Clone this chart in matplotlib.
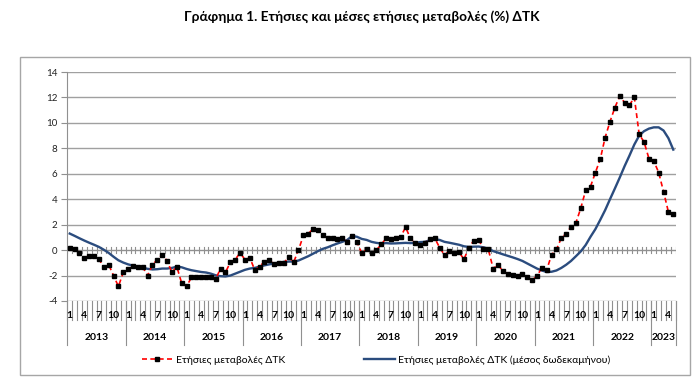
import matplotlib
matplotlib.use("Agg")
import matplotlib.pyplot as plt
import matplotlib.transforms as mtransforms
from matplotlib.patches import Rectangle

plt.rcParams['font.family'] = ['Lato', 'Open Sans', 'DejaVu Sans']

# ---------------- data ----------------
years = ['2013', '2014', '2015', '2016', '2017', '2018', '2019', '2020', '2021', '2022', '2023']
months_per_year = [12, 12, 12, 12, 12, 12, 12, 12, 12, 12, 5]
month_labels_shown = ['1', '4', '7', '10']

annual_change = [
    0.2, 0.05, -0.2, -0.6, -0.45, -0.45, -0.7, -1.35, -1.15, -2.0, -2.85, -1.75,
    -1.5, -1.25, -1.35, -1.35, -2.0, -1.15, -0.75, -0.35, -0.85, -1.75, -1.3, -2.6,
    -2.85, -2.15, -2.1, -2.1, -2.1, -2.15, -2.25, -1.45, -1.75, -0.95, -0.75, -0.2,
    -0.75, -0.6, -1.55, -1.3, -0.9, -0.75, -1.1, -1.0, -1.0, -0.55, -0.95, 0.0,
    1.15, 1.3, 1.65, 1.55, 1.15, 0.98, 0.95, 0.88, 0.95, 0.65, 1.1, 0.65,
    -0.25, 0.05, -0.25, 0.0, 0.45, 0.92, 0.88, 0.98, 1.05, 1.8, 0.92, 0.55,
    0.38, 0.58, 0.87, 0.93, 0.2, -0.38, -0.07, -0.2, -0.18, -0.72, 0.2, 0.74,
    0.82, 0.1, 0.05, -1.45, -1.15, -1.65, -1.85, -1.95, -2.0, -1.85, -2.1, -2.35,
    -2.05, -1.37, -1.55, -0.37, 0.05, 0.95, 1.3, 1.83, 2.15, 3.3, 4.7, 5.0,
    6.1, 7.15, 8.85, 10.1, 11.2, 12.1, 11.6, 11.4, 12.0, 9.1, 8.5, 7.2,
    7.0, 6.1, 4.6, 3.0, 2.8,
]

avg_change = [
    1.3, 1.12, 0.93, 0.75, 0.58, 0.42, 0.25, 0.03, -0.22, -0.52, -0.8, -0.98,
    -1.12, -1.22, -1.3, -1.38, -1.47, -1.52, -1.5, -1.45, -1.45, -1.4, -1.3, -1.35,
    -1.48, -1.58, -1.65, -1.72, -1.76, -1.85, -1.98, -2.05, -2.07, -2.0, -1.85, -1.7,
    -1.55, -1.45, -1.4, -1.3, -1.2, -1.12, -1.05, -0.98, -0.93, -0.9, -0.9, -0.82,
    -0.65, -0.48, -0.28, -0.08, 0.1, 0.22, 0.38, 0.52, 0.65, 0.8, 1.1, 1.05,
    0.88, 0.8, 0.65, 0.57, 0.52, 0.55, 0.52, 0.53, 0.55, 0.57, 0.55, 0.57,
    0.63, 0.65, 0.78, 0.85, 0.8, 0.65, 0.58, 0.5, 0.42, 0.3, 0.25, 0.27,
    0.28, 0.22, 0.12, -0.08, -0.2, -0.33, -0.45, -0.57, -0.7, -0.85, -1.05, -1.25,
    -1.45, -1.6, -1.72, -1.7, -1.6, -1.4, -1.15, -0.85, -0.48, -0.1, 0.4, 1.05,
    1.65, 2.38, 3.14, 4.0, 4.84, 5.7, 6.6, 7.43, 8.3, 9.0, 9.35, 9.55,
    9.65, 9.65, 9.4, 8.8, 7.9,
]

y_ticks = [-4, -2, 0, 2, 4, 6, 8, 10, 12, 14]
title = 'Γράφημα 1. Ετήσιες και μέσες ετήσιες μεταβολές (%) ΔΤΚ'
label_annual = 'Ετήσιες μεταβολές ΔΤΚ'
label_avg = 'Ετήσιες μεταβολές ΔΤΚ (μέσος δωδεκαμήνου)'

# ---------------- figure ----------------
W, H = 700, 380
fig = plt.figure(figsize=(W / 100, H / 100), dpi=100)
fig.patch.set_facecolor('white')

# outer chart frame
fig.patches.append(Rectangle((20 / W, 1 - 375 / H), (690 - 20) / W, (375 - 57) / H,
                             transform=fig.transFigure, fill=False,
                             edgecolor='#A6A6A6', linewidth=1.0))

fig.text(362 / W, 1 - 17 / H, title, ha='center', va='center',
         fontsize=9.8, fontweight='bold', color='black')

left, right, top, bottom = 67.3, 675.7, 72, 301
ax = fig.add_axes([left / W, 1 - bottom / H, (right - left) / W, (bottom - top) / H])

n = len(annual_change)
x = list(range(n))
ax.set_xlim(-0.5, n - 0.5)
ax.set_ylim(y_ticks[0], y_ticks[-1])

grid_col = '#A0A0A0'
for yt in y_ticks:
    if yt != 0:
        ax.axhline(yt, color=grid_col, linewidth=1.0, zorder=1)
ax.axhline(0, color='#909090', linewidth=1.0, zorder=1)
# cross ticks on the zero line
for k in range(n + 1):
    ax.plot([k - 0.5, k - 0.5], [-0.25, 0.25], color='#909090', linewidth=0.8, zorder=1)

blue_line, = ax.plot(x, avg_change, color='#2B4C7E', linewidth=1.7, zorder=3,
                     solid_joinstyle='round', label=label_avg)
red_line, = ax.plot(x, annual_change, color='#FF0000', linewidth=1.2,
                    linestyle=(0, (3, 2)), marker='s', markersize=2.3,
                    markerfacecolor='black', markeredgecolor='black',
                    zorder=4, label=label_annual)

for s in ['top', 'right', 'bottom']:
    ax.spines[s].set_visible(False)
ax.spines['left'].set_color('#909090')
ax.set_yticks(y_ticks)
ax.set_yticklabels([str(v) for v in y_ticks])
ax.tick_params(axis='y', length=4, color='#909090', labelsize=7, pad=3, labelcolor='#222222')
ax.set_xticks([])

# multi-level category axis below the plot
trans = mtransforms.blended_transform_factory(ax.transData, ax.transAxes)
ph = bottom - top
month_sep = -(320 - bottom) / ph
year_sep = -(345 - bottom) / ph
month_lab_y = -(316 - bottom) / ph
year_lab_y = -(337.5 - bottom) / ph

starts = []
s = 0
for m in months_per_year:
    starts.append(s)
    s += m

for k in range(n + 1):
    ax.plot([k - 0.5, k - 0.5], [0, month_sep], transform=trans, clip_on=False,
            color='#909090', linewidth=0.8)
for st in starts + [n]:
    ax.plot([st - 0.5, st - 0.5], [0, year_sep], transform=trans, clip_on=False,
            color='#909090', linewidth=0.8)

for yi, (yr, m) in enumerate(zip(years, months_per_year)):
    st = starts[yi]
    for j in range(m):
        lab = str(j + 1)
        if lab in month_labels_shown:
            ax.text(st + j, month_lab_y, lab, transform=trans, ha='center', va='center',
                    fontsize=7.5, fontweight='bold', color='black')
    ax.text(st + (m - 1) / 2, year_lab_y, yr, transform=trans, ha='center', va='center',
            fontsize=7.5, fontweight='bold', color='black')

fig.legend(handles=[red_line, blue_line], labels=[label_annual, label_avg],
           loc='center', bbox_to_anchor=(376 / W, 1 - 360 / H), ncol=2,
           frameon=False, fontsize=7.5, handlelength=3.0, handletextpad=0.3,
           columnspacing=7.5)

fig.savefig('out.png', dpi=100, facecolor='white')
